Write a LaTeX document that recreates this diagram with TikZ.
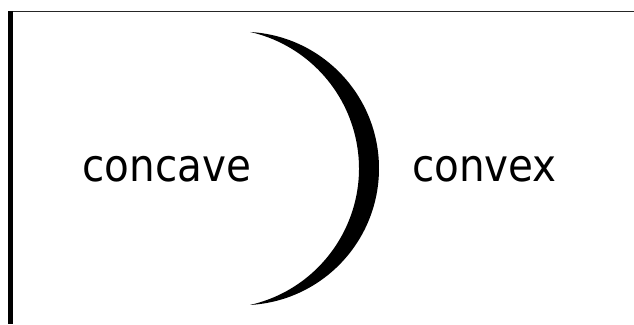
\documentclass[tikz,border=0pt]{standalone}
\usepackage{fontspec}
\newfontfamily\crescfont{DejaVu Sans Condensed}
\usepackage{tikz}
\usetikzlibrary{positioning}
\tikzset{
  sidetext/.style = {anchor=base, inner sep=0pt,
                     font=\crescfont\fontsize{45}{54}\selectfont},
  frameline/.style = {draw=black!85, line width=1.6pt},
  framebar/.style  = {draw=black, line width=5pt},
  lens/.style      = {fill=black, draw=none},
}

\begin{document}
\begin{tikzpicture}[x=1pt, y=1pt]

  \useasboundingbox (0,0) rectangle (634,324);

  % Frame (top rule and thick left bar)
  \coordinate (cornertl) at (10.5,312.5);
  \coordinate (topend)   at (634,312.5);
  \coordinate (barbot)   at (10.5,0);
  \draw[frameline] (cornertl) -- (topend);
  \draw[framebar]  (cornertl) -- (barbot);

  % Crescent between the two words
  \coordinate (tiptop) at (250,292);
  \coordinate (tipbot) at (250,19);
  \fill[lens] (tiptop) arc[start angle=86.77, end angle=-86.77, radius=136.7]
              arc[start angle=-77.2, end angle=77.2, radius=140] -- cycle;

  % Labels
  \node[sidetext] (concave) at (167,142) {concave};
  \node[sidetext] (convex)  at (484.5,142) {convex};

\end{tikzpicture}
\end{document}
